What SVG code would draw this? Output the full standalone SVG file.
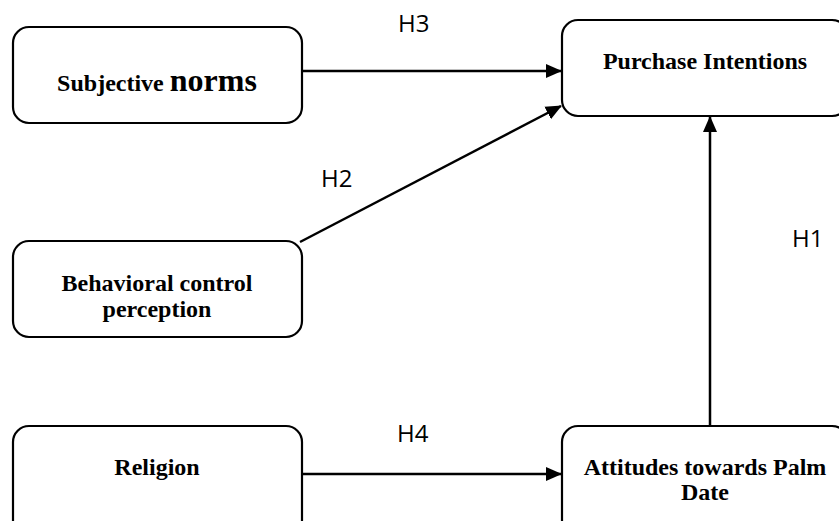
<svg xmlns="http://www.w3.org/2000/svg" width="839" height="521" viewBox="0 0 839 521">
<style>
.box{fill:#fff;stroke:#000;stroke-width:2.2}
.t{font-family:"Liberation Serif","Times New Roman",serif;font-weight:bold;font-size:24px;fill:#000;text-anchor:middle}
.h{font-family:"Open Sans","Liberation Sans",sans-serif;font-size:24px;fill:#000}
.c{stroke:#000;stroke-width:2.5;fill:none;marker-end:url(#ah)}
</style>
<defs>
<marker id="ah" markerUnits="userSpaceOnUse" markerWidth="16" markerHeight="16" viewBox="0 0 16 16" refX="15" refY="8" orient="auto">
<path d="M0,1 L16,8 L0,15 Z" fill="#000"/>
</marker>
</defs>
<rect width="839" height="521" fill="#fff"/>
<g id="connectors">
<line class="c" x1="302" y1="71" x2="561" y2="71"/>
<line class="c" x1="300" y1="242" x2="561" y2="106"/>
<line class="c" x1="710" y1="426" x2="710" y2="117"/>
<line class="c" x1="302" y1="474" x2="561" y2="474"/>
</g>
<g id="labels">
<text class="h" x="398" y="32">H3</text>
<text class="h" x="321" y="187">H2</text>
<text class="h" x="792" y="247">H1</text>
<text class="h" x="397" y="442">H4</text>
</g>
<g id="subjective">
<rect class="box" x="13" y="27" width="289" height="96" rx="16"/>
<text class="t" x="157" y="91">Subjective <tspan font-size="32px">norms</tspan></text>
</g>
<g id="purchase">
<rect class="box" x="562" y="20" width="286" height="96" rx="16"/>
<text class="t" x="705" y="69">Purchase Intentions</text>
</g>
<g id="behavioral">
<rect class="box" x="13" y="241" width="289" height="96" rx="16"/>
<text class="t" x="157" y="291">Behavioral control</text>
<text class="t" x="157" y="317">perception</text>
</g>
<g id="religion">
<rect class="box" x="13" y="426" width="289" height="110" rx="16"/>
<text class="t" x="157" y="475">Religion</text>
</g>
<g id="attitudes">
<rect class="box" x="562" y="426" width="286" height="110" rx="16"/>
<text class="t" x="705" y="475">Attitudes towards Palm</text>
<text class="t" x="705" y="500">Date</text>
</g>
</svg>
